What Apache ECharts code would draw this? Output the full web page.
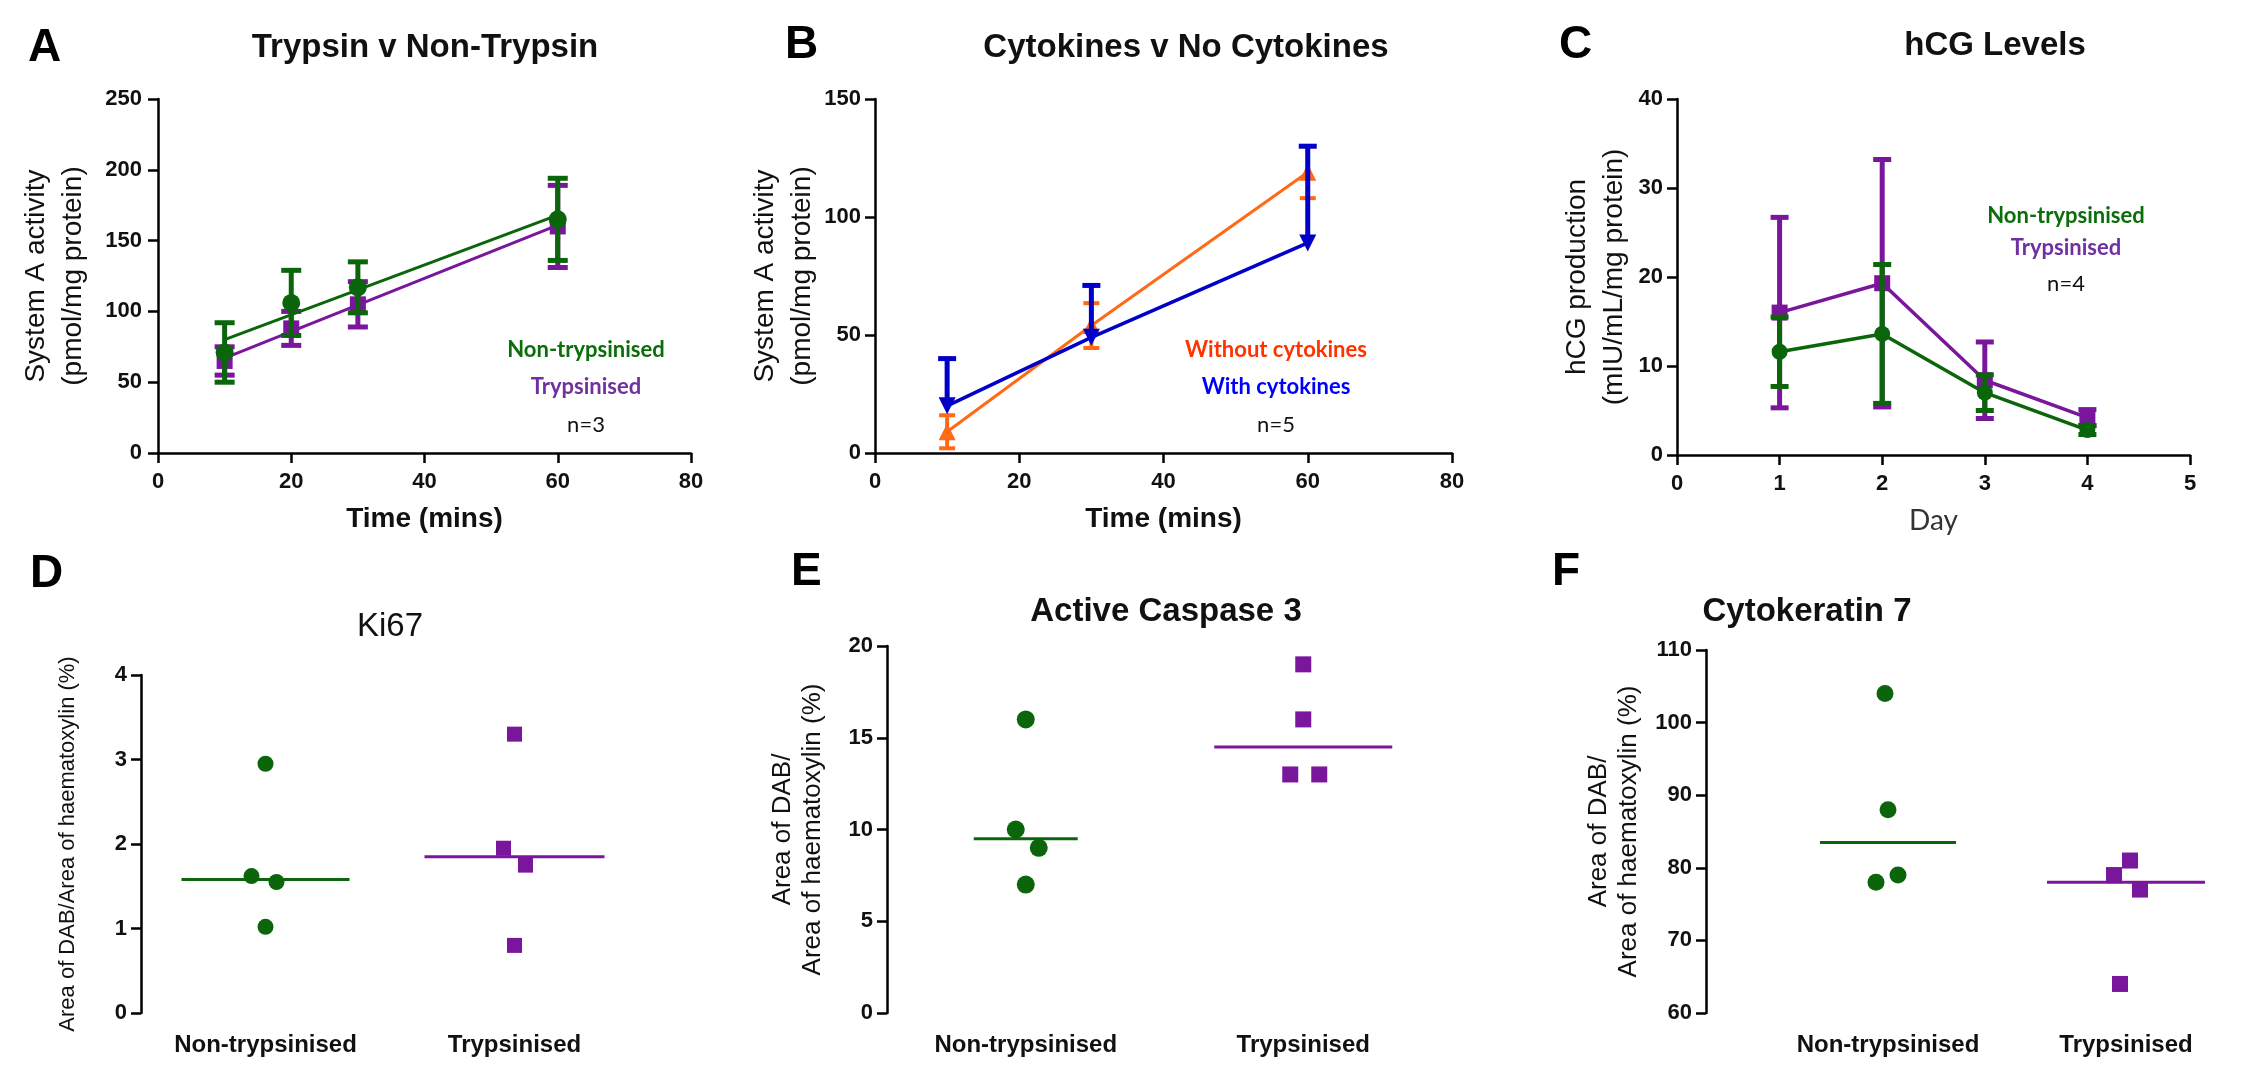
<!DOCTYPE html>
<html><head><meta charset="utf-8">
<script src="https://cdn.jsdelivr.net/npm/echarts@6/dist/echarts.min.js"></script>
<style>html,body{margin:0;padding:0;background:#fff}#c{width:2243px;height:1090px}</style>
</head><body><div id="c"></div>
<script>
// ---------------- DATA ----------------
const panelLetters = ['A','B','C','D','E','F'];
const panelTitles = ['Trypsin v Non-Trypsin','Cytokines v No Cytokines','hCG Levels','Ki67','Active Caspase 3','Cytokeratin 7'];

// Panel A
const timeA = [10, 20, 30, 60];
const nonTrypA = [71, 106, 117, 165];
const nonTrypErrA = [21, 23, 18, 29];
const trypA = [65, 88, 105, 160];
const trypErrA = [10, 12, 16, 29];
const fitXA = [10, 60];
const nonTrypFitA = [80, 168];
const trypFitA = [67, 161];
const yTicksA = [0, 50, 100, 150, 200, 250];
const xTicksAB = [0, 20, 40, 60, 80];
const legendA = ['Non-trypsinised', 'Trypsinised', 'n=3'];

// Panel B
const timeB = [10, 30, 60];
const withoutCytB = [9, 54, 119];
const withoutCytErrB = [7, 9.5, 11];
const withCytB = [20, 49, 89];
const withCytErrB = [20, 22, 41];
const yTicksB = [0, 50, 100, 150];
const legendB = ['Without cytokines', 'With cytokines', 'n=5'];

// Panel C
const dayC = [1, 2, 3, 4];
const nonTrypC = [11.6, 13.6, 7.0, 2.8];
const nonTrypErrC = [3.9, 7.8, 2.0, 0.5];
const trypC = [16.0, 19.3, 8.4, 4.2];
const trypErrC = [10.7, 13.9, 4.3, 0.9];
const yTicksC = [0, 10, 20, 30, 40];
const xTicksC = [0, 1, 2, 3, 4, 5];
const legendC = ['Non-trypsinised', 'Trypsinised', 'n=4'];

// Panels D, E, F
const groups = ['Non-trypsinised', 'Trypsinised'];
const ki67Non = [2.95, 1.62, 1.55, 1.02];
const ki67Tryp = [3.3, 1.95, 1.75, 0.8];
const ki67Line = [1.58, 1.85];
const yTicksD = [0, 1, 2, 3, 4];
const casNon = [16, 10, 9, 7];
const casTryp = [19, 16, 13, 13];
const casLine = [9.5, 14.5];
const yTicksE = [0, 5, 10, 15, 20];
const ck7Non = [104, 88, 79, 78];
const ck7Tryp = [81, 79, 77, 64];
const ck7Line = [83.5, 78];
const yTicksF = [60, 70, 80, 90, 100, 110];

// ---------------- STYLE / LAYOUT ----------------
const BLACK = '#111';
const FONT = '"Liberation Sans", Arial, sans-serif';
const LFONT = 'Lato, "Open Sans", sans-serif';
const GREEN = '#0B650B', PURPLE = '#7A169C', ORANGE = '#FF6A17', BLUE = '#0000C8';
const GREEN_T = '#0A6E0A', PURPLE_T = '#7030A0', ORANGE_T = '#FF3300', BLUE_T = '#0000FF';

const grids = [
  {left:158, top:99, width:533, height:354},
  {left:875, top:99, width:577, height:354},
  {left:1677, top:99, width:513, height:356},
  {left:141, top:675, width:498, height:338},
  {left:887, top:646, width:555, height:367},
  {left:1769, top:650, width:476, height:363}
].map(g => Object.assign({outerBoundsMode:'none', containLabel:false}, g));
const yOffsets = [0, 0, 0, 0, 0, 63];

const letterPos = [[28,48],[785,45],[1559,45],[30,574],[791,572],[1552,572]];
const titlePos = [[425,48],[1186,48],[1995,46],[390,627],[1166,612],[1807,612]];
const titleBold = [true,true,true,false,true,true];
const legendPos = [[586,[350,387,425]],[1276,[350,387,425]],[2066,[216,248,284]]];
const legendColors = [[GREEN_T,PURPLE_T,'#111'],[ORANGE_T,BLUE_T,'#111'],[GREEN_T,PURPLE_T,'#111']];

// jitter offsets (px) for the dot plots
const jitD = [[0,-14,11,0],[0,-11,11,0]];
const jitE = [[0,-10,13,0],[0,0,-13,16]];
const jitF = [[-3,0,10,-12],[4,-12,14,-6]];
const lineW = {D:[168,180], E:[104,178], F:[136,158]};

function yAx(gi, ticks, name, gap, nameSize, lh, labelSize, margin) {
  return {
    gridIndex:gi, type:'value', min:ticks[0], max:ticks[ticks.length-1], interval:ticks[1]-ticks[0],
    offset: yOffsets[gi],
    axisLine:{show:true, onZero:false, lineStyle:{color:'#000', width:2.5}},
    axisTick:{show:true, length:10, lineStyle:{color:'#000', width:2.5}},
    axisLabel:{fontSize:labelSize, fontWeight:'bold', color:BLACK, fontFamily:FONT, margin:margin},
    splitLine:{show:false},
    name:name, nameLocation:'middle', nameGap:gap,
    nameTextStyle:{fontSize:nameSize, lineHeight:lh, color:BLACK, fontFamily:FONT}
  };
}
function xValAx(gi, ticks, name, nameStyle) {
  return {
    gridIndex:gi, type:'value', min:ticks[0], max:ticks[ticks.length-1], interval:ticks[1]-ticks[0],
    axisLine:{show:true, onZero:false, lineStyle:{color:'#000', width:2.5}},
    axisTick:{show:true, length:10, lineStyle:{color:'#000', width:2.5}},
    axisLabel:{fontSize:22, fontWeight:'bold', color:BLACK, fontFamily:FONT, margin:18},
    splitLine:{show:false},
    name:name, nameLocation:'middle', nameGap:52, nameTextStyle:nameStyle
  };
}
function xCatAx(gi) {
  return {
    gridIndex:gi, type:'category', data:groups,
    axisLine:{show:false}, axisTick:{show:false}, splitLine:{show:false},
    axisLabel:{fontSize:24, fontWeight:'bold', color:BLACK, fontFamily:FONT, margin:20, interval:0}
  };
}
function errSeries(gi, xs, means, errs, color, lw, cap, upperOnly, z) {
  return {
    type:'custom', xAxisIndex:gi, yAxisIndex:gi, z:z, silent:true, clip:false,
    encode:{x:0, y:[1,2]},
    data: xs.map((x,i) => [x, upperOnly ? means[i] : means[i]-errs[i], means[i]+errs[i]]),
    renderItem: function(params, api) {
      const x = api.value(0);
      const pHi = api.coord([x, api.value(2)]);
      const pLo = api.coord([x, api.value(1)]);
      const st = {stroke:color, lineWidth:lw};
      const ch = [
        {type:'line', shape:{x1:pHi[0], y1:pHi[1], x2:pLo[0], y2:pLo[1]}, style:st},
        {type:'line', shape:{x1:pHi[0]-cap, y1:pHi[1], x2:pHi[0]+cap, y2:pHi[1]}, style:st}
      ];
      if (!upperOnly) ch.push({type:'line', shape:{x1:pLo[0]-cap, y1:pLo[1], x2:pLo[0]+cap, y2:pLo[1]}, style:st});
      return {type:'group', children:ch};
    }
  };
}
function pts(xs, ys) { return xs.map((x,i) => [x, ys[i]]); }
function lineSeries(gi, xs, ys, color, lw, symbol, size, rot, z, showSym) {
  return {
    type:'line', xAxisIndex:gi, yAxisIndex:gi, z:z, silent:true, data:pts(xs, ys),
    showSymbol:showSym, symbol:symbol, symbolSize:size, symbolRotate:rot||0,
    lineStyle:{color:color, width:lw}, itemStyle:{color:color, opacity:1}
  };
}
function scatterSeries(gi, xs, ys, color, symbol, size, z) {
  return {type:'scatter', xAxisIndex:gi, yAxisIndex:gi, z:z, silent:true, symbol:symbol, symbolSize:size,
    itemStyle:{color:color, opacity:1}, data:pts(xs, ys)};
}
function dotSeries(gi, cat, vals, offs, color, symbol, size) {
  return {type:'scatter', xAxisIndex:gi, yAxisIndex:gi, silent:true, symbol:symbol, symbolSize:size, z:3,
    itemStyle:{color:color, opacity:1}, data: vals.map((v,i) => ({value:[cat, v], symbolOffset:[offs[i], 0]}))};
}
function medSeries(gi, cat, v, w, color) {
  return {type:'scatter', xAxisIndex:gi, yAxisIndex:gi, silent:true, symbol:'rect', symbolSize:[w, 3], z:2,
    itemStyle:{color:color, opacity:1}, data:[[cat, v]]};
}

const series = [
  // A
  errSeries(0, timeA, trypA, trypErrA, PURPLE, 5, 10, false, 2),
  lineSeries(0, fitXA, trypFitA, PURPLE, 3, 'none', 0, 0, 2, false),
  scatterSeries(0, timeA, trypA, PURPLE, 'rect', 16, 3),
  errSeries(0, timeA, nonTrypA, nonTrypErrA, GREEN, 5, 10, false, 4),
  lineSeries(0, fitXA, nonTrypFitA, GREEN, 3, 'none', 0, 0, 4, false),
  scatterSeries(0, timeA, nonTrypA, GREEN, 'circle', 18, 5),
  // B
  errSeries(1, timeB, withoutCytB, withoutCytErrB, ORANGE, 4, 8, false, 2),
  lineSeries(1, timeB, withoutCytB, ORANGE, 3, 'triangle', 17, 0, 3, true),
  errSeries(1, timeB, withCytB, withCytErrB, BLUE, 5, 9, true, 4),
  lineSeries(1, timeB, withCytB, BLUE, 3.5, 'triangle', 17, 180, 5, true),
  // C
  errSeries(2, dayC, trypC, trypErrC, PURPLE, 5, 9, false, 2),
  lineSeries(2, dayC, trypC, PURPLE, 3.5, 'rect', 16, 0, 3, true),
  errSeries(2, dayC, nonTrypC, nonTrypErrC, GREEN, 5, 9, false, 4),
  lineSeries(2, dayC, nonTrypC, GREEN, 3.5, 'circle', 16, 0, 5, true),
  // D
  medSeries(3, 0, ki67Line[0], lineW.D[0], GREEN),
  medSeries(3, 1, ki67Line[1], lineW.D[1], PURPLE),
  dotSeries(3, 0, ki67Non, jitD[0], GREEN, 'circle', 16),
  dotSeries(3, 1, ki67Tryp, jitD[1], PURPLE, 'rect', 15),
  // E
  medSeries(4, 0, casLine[0], lineW.E[0], GREEN),
  medSeries(4, 1, casLine[1], lineW.E[1], PURPLE),
  dotSeries(4, 0, casNon, jitE[0], GREEN, 'circle', 18),
  dotSeries(4, 1, casTryp, jitE[1], PURPLE, 'rect', 16),
  // F
  medSeries(5, 0, ck7Line[0], lineW.F[0], GREEN),
  medSeries(5, 1, ck7Line[1], lineW.F[1], PURPLE),
  dotSeries(5, 0, ck7Non, jitF[0], GREEN, 'circle', 17),
  dotSeries(5, 1, ck7Tryp, jitF[1], PURPLE, 'rect', 16)
];

const boldName = {fontSize:28, fontWeight:'bold', color:BLACK, fontFamily:FONT};
const xAxes = [
  xValAx(0, xTicksAB, 'Time (mins)', boldName),
  xValAx(1, xTicksAB, 'Time (mins)', boldName),
  xValAx(2, xTicksC, 'Day', {fontSize:28, color:'#333', fontFamily:LFONT}),
  xCatAx(3), xCatAx(4), xCatAx(5)
];
const yAxes = [
  yAx(0, yTicksA, 'System A activity\n(pmol/mg protein)', 66, 28, 37, 22, 16),
  yAx(1, yTicksB, 'System A activity\n(pmol/mg protein)', 54, 28, 37, 22, 14),
  yAx(2, yTicksC, 'hCG production\n(mIU/mL/mg protein)', 44, 28, 37, 22, 14),
  yAx(3, yTicksD, 'Area of DAB/Area of haematoxylin (%)', 60, 22, 26, 22, 14),
  yAx(4, yTicksE, 'Area of DAB/\nArea of haematoxylin (%)', 59, 26, 30, 22, 14),
  yAx(5, yTicksF, 'Area of DAB/\nArea of haematoxylin (%)', 62, 26, 30, 22, 14)
];

const graphics = [];
panelLetters.forEach((t,i) => graphics.push({type:'text', x:letterPos[i][0], y:letterPos[i][1], silent:true,
  style:{text:t, font:'bold 46px ' + FONT, fill:'#000', textAlign:'left', textVerticalAlign:'middle'}}));
panelTitles.forEach((t,i) => graphics.push({type:'text', x:titlePos[i][0], y:titlePos[i][1], silent:true,
  style:{text:t, font:(titleBold[i] ? 'bold ' : '') + '33px ' + FONT, fill:BLACK, textAlign:'center', textVerticalAlign:'middle'}}));
[legendA, legendB, legendC].forEach((lg,k) => {
  lg.forEach((t,j) => graphics.push({type:'text', x:legendPos[k][0], y:legendPos[k][1][j], silent:true,
    style:{text:t, font:(j < 2 ? 'bold ' : '') + '22px ' + LFONT, fill:legendColors[k][j], textAlign:'center', textVerticalAlign:'middle'}}));
});

const chart = echarts.init(document.getElementById('c'), null, {renderer:'canvas'});
chart.setOption({
  backgroundColor:'#fff', animation:false,
  grid:grids, xAxis:xAxes, yAxis:yAxes, series:series, graphic:graphics
});
</script>
</body></html>
